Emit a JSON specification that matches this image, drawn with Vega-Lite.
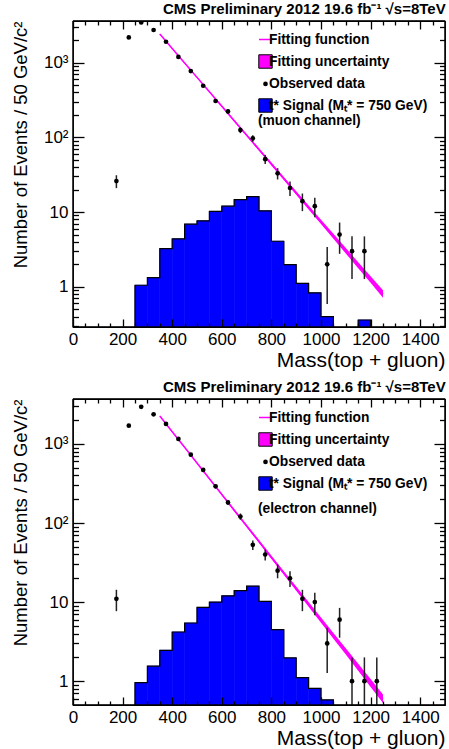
{
  "$schema": "https://vega.github.io/schema/vega-lite/v6.json",
  "background": "white",
  "padding": {"left": 10, "top": 1, "right": 0, "bottom": 0},
  "spacing": 8,
  "datasets": {
    "one": [{}],
    "muHist": [
      {"lo": 200, "hi": 250, "n": 0.01},
      {"lo": 250, "hi": 300, "n": 1.05},
      {"lo": 300, "hi": 350, "n": 1.33},
      {"lo": 350, "hi": 400, "n": 3.24},
      {"lo": 400, "hi": 450, "n": 4.38},
      {"lo": 450, "hi": 500, "n": 6.89},
      {"lo": 500, "hi": 550, "n": 7.64},
      {"lo": 550, "hi": 600, "n": 10.2},
      {"lo": 600, "hi": 650, "n": 12.0},
      {"lo": 650, "hi": 700, "n": 14.7},
      {"lo": 700, "hi": 750, "n": 16.1},
      {"lo": 750, "hi": 800, "n": 10.4},
      {"lo": 800, "hi": 850, "n": 4.07},
      {"lo": 850, "hi": 900, "n": 1.98},
      {"lo": 900, "hi": 950, "n": 1.11},
      {"lo": 950, "hi": 1000, "n": 0.83},
      {"lo": 1000, "hi": 1050, "n": 0.40},
      {"lo": 1050, "hi": 1100, "n": 0.01},
      {"lo": 1100, "hi": 1150, "n": 0.01},
      {"lo": 1150, "hi": 1200, "n": 0.36},
      {"lo": 1200, "hi": 1250, "n": 0.01}
    ],
    "muData": [
      {"m": 175, "n": 26, "lo": 20.9, "hi": 31.1, "series": "Observed data"},
      {"m": 225, "n": 2170, "lo": 2123, "hi": 2217, "series": "Observed data"},
      {"m": 275, "n": 3450, "lo": 3391, "hi": 3509, "series": "Observed data"},
      {"m": 325, "n": 2730, "lo": 2678, "hi": 2782, "series": "Observed data"},
      {"m": 375, "n": 1900, "lo": 1856, "hi": 1944, "series": "Observed data"},
      {"m": 425, "n": 1190, "lo": 1155, "hi": 1225, "series": "Observed data"},
      {"m": 475, "n": 770, "lo": 742, "hi": 798, "series": "Observed data"},
      {"m": 525, "n": 490, "lo": 468, "hi": 512, "series": "Observed data"},
      {"m": 575, "n": 306, "lo": 288.5, "hi": 323.5, "series": "Observed data"},
      {"m": 625, "n": 222, "lo": 207, "hi": 237, "series": "Observed data"},
      {"m": 675, "n": 125, "lo": 113.8, "hi": 136.2, "series": "Observed data"},
      {"m": 725, "n": 97, "lo": 87.2, "hi": 106.9, "series": "Observed data"},
      {"m": 775, "n": 51, "lo": 43.9, "hi": 58.1, "series": "Observed data"},
      {"m": 825, "n": 33, "lo": 27.3, "hi": 38.7, "series": "Observed data"},
      {"m": 875, "n": 21, "lo": 16.4, "hi": 25.6, "series": "Observed data"},
      {"m": 925, "n": 14, "lo": 10.3, "hi": 17.7, "series": "Observed data"},
      {"m": 975, "n": 12, "lo": 8.5, "hi": 15.5, "series": "Observed data"},
      {"m": 1025, "n": 2, "lo": 0.59, "hi": 3.41, "series": "Observed data"},
      {"m": 1075, "n": 5, "lo": 2.76, "hi": 7.24, "series": "Observed data"},
      {"m": 1125, "n": 3, "lo": 1.27, "hi": 4.73, "series": "Observed data"},
      {"m": 1175, "n": 3, "lo": 1.27, "hi": 4.73, "series": "Observed data"}
    ],
    "muFit": [
      {"m": 350, "fit": 2410, "lo": 2382, "hi": 2438},
      {"m": 400, "fit": 1545, "lo": 1524, "hi": 1566},
      {"m": 450, "fit": 990, "lo": 974, "hi": 1006},
      {"m": 500, "fit": 634, "lo": 622, "hi": 646},
      {"m": 550, "fit": 406, "lo": 397, "hi": 415},
      {"m": 600, "fit": 261, "lo": 254, "hi": 268},
      {"m": 650, "fit": 167, "lo": 162, "hi": 172},
      {"m": 700, "fit": 107, "lo": 103.4, "hi": 110.8},
      {"m": 750, "fit": 68.5, "lo": 65.9, "hi": 71.2},
      {"m": 800, "fit": 43.9, "lo": 42.0, "hi": 45.9},
      {"m": 850, "fit": 28.1, "lo": 26.8, "hi": 29.5},
      {"m": 900, "fit": 18.0, "lo": 17.0, "hi": 19.0},
      {"m": 950, "fit": 11.5, "lo": 10.81, "hi": 12.24},
      {"m": 1000, "fit": 7.39, "lo": 6.90, "hi": 7.92},
      {"m": 1050, "fit": 4.74, "lo": 4.39, "hi": 5.11},
      {"m": 1100, "fit": 3.04, "lo": 2.79, "hi": 3.31},
      {"m": 1150, "fit": 1.94, "lo": 1.77, "hi": 2.13},
      {"m": 1200, "fit": 1.25, "lo": 1.13, "hi": 1.39},
      {"m": 1250, "fit": 0.80, "lo": 0.713, "hi": 0.90}
    ],
    "eHist": [
      {"lo": 200, "hi": 250, "n": 0.01},
      {"lo": 250, "hi": 300, "n": 0.96},
      {"lo": 300, "hi": 350, "n": 1.55},
      {"lo": 350, "hi": 400, "n": 2.46},
      {"lo": 400, "hi": 450, "n": 4.19},
      {"lo": 450, "hi": 500, "n": 5.44},
      {"lo": 500, "hi": 550, "n": 8.57},
      {"lo": 550, "hi": 600, "n": 10.0},
      {"lo": 600, "hi": 650, "n": 12.0},
      {"lo": 650, "hi": 700, "n": 14.0},
      {"lo": 700, "hi": 750, "n": 15.9},
      {"lo": 750, "hi": 800, "n": 10.2},
      {"lo": 800, "hi": 850, "n": 4.48},
      {"lo": 850, "hi": 900, "n": 1.97},
      {"lo": 900, "hi": 950, "n": 1.11},
      {"lo": 950, "hi": 1000, "n": 0.81},
      {"lo": 1000, "hi": 1050, "n": 0.58},
      {"lo": 1050, "hi": 1100, "n": 0.01}
    ],
    "eData": [
      {"m": 175, "n": 11, "lo": 7.68, "hi": 14.32, "series": "Observed data"},
      {"m": 225, "n": 1700, "lo": 1659, "hi": 1741, "series": "Observed data"},
      {"m": 275, "n": 2950, "lo": 2896, "hi": 3004, "series": "Observed data"},
      {"m": 325, "n": 2370, "lo": 2321, "hi": 2419, "series": "Observed data"},
      {"m": 375, "n": 1790, "lo": 1748, "hi": 1832, "series": "Observed data"},
      {"m": 425, "n": 1157, "lo": 1123, "hi": 1191, "series": "Observed data"},
      {"m": 475, "n": 732, "lo": 705, "hi": 759, "series": "Observed data"},
      {"m": 525, "n": 469, "lo": 447, "hi": 491, "series": "Observed data"},
      {"m": 575, "n": 291, "lo": 274, "hi": 308, "series": "Observed data"},
      {"m": 625, "n": 182, "lo": 168.5, "hi": 195.5, "series": "Observed data"},
      {"m": 675, "n": 121, "lo": 110, "hi": 132, "series": "Observed data"},
      {"m": 725, "n": 53, "lo": 45.7, "hi": 60.3, "series": "Observed data"},
      {"m": 775, "n": 40, "lo": 33.7, "hi": 46.3, "series": "Observed data"},
      {"m": 825, "n": 25, "lo": 20, "hi": 30, "series": "Observed data"},
      {"m": 875, "n": 20, "lo": 15.5, "hi": 24.5, "series": "Observed data"},
      {"m": 925, "n": 11, "lo": 7.68, "hi": 14.32, "series": "Observed data"},
      {"m": 975, "n": 10, "lo": 6.84, "hi": 13.16, "series": "Observed data"},
      {"m": 1025, "n": 3, "lo": 1.27, "hi": 4.73, "series": "Observed data"},
      {"m": 1075, "n": 6, "lo": 3.55, "hi": 8.45, "series": "Observed data"},
      {"m": 1125, "n": 1, "lo": 0.01, "hi": 2, "series": "Observed data"},
      {"m": 1175, "n": 1, "lo": 0.01, "hi": 2, "series": "Observed data"},
      {"m": 1225, "n": 1, "lo": 0.01, "hi": 2, "series": "Observed data"}
    ],
    "eFit": [
      {"m": 350, "fit": 2259, "lo": 2233, "hi": 2285},
      {"m": 400, "fit": 1429, "lo": 1409, "hi": 1449},
      {"m": 450, "fit": 906, "lo": 891, "hi": 921},
      {"m": 500, "fit": 573, "lo": 563, "hi": 584},
      {"m": 550, "fit": 363, "lo": 355, "hi": 371},
      {"m": 600, "fit": 230, "lo": 224, "hi": 236},
      {"m": 650, "fit": 145, "lo": 140, "hi": 150},
      {"m": 700, "fit": 92.1, "lo": 88.7, "hi": 95.6},
      {"m": 750, "fit": 58.3, "lo": 55.9, "hi": 60.8},
      {"m": 800, "fit": 36.9, "lo": 35.2, "hi": 38.6},
      {"m": 850, "fit": 23.3, "lo": 22.1, "hi": 24.6},
      {"m": 900, "fit": 14.8, "lo": 13.95, "hi": 15.7},
      {"m": 950, "fit": 9.36, "lo": 8.75, "hi": 10.0},
      {"m": 1000, "fit": 5.93, "lo": 5.50, "hi": 6.39},
      {"m": 1050, "fit": 3.75, "lo": 3.45, "hi": 4.07},
      {"m": 1100, "fit": 2.38, "lo": 2.17, "hi": 2.61},
      {"m": 1150, "fit": 1.50, "lo": 1.36, "hi": 1.66},
      {"m": 1200, "fit": 0.95, "lo": 0.847, "hi": 1.065},
      {"m": 1250, "fit": 0.60, "lo": 0.529, "hi": 0.681}
    ]
  },
  "resolve": {"scale": {"fill": "independent", "stroke": "independent", "shape": "independent", "size": "independent", "strokeWidth": "independent"}},
  "vconcat": [
    {
      "width": 372, "height": 306,
      "title": {"text": "CMS Preliminary 2012 19.6 fb⁻¹ √s=8TeV", "anchor": "end", "fontSize": 15, "font": "Liberation Sans", "fontWeight": "bold", "color": "black", "offset": 3},
      "resolve": {"axis": {"x": "independent", "y": "independent"}},
      "layer": [
        {"data": {"name": "muHist"}, "mark": {"type": "rect", "color": "#0000ff", "stroke": "#0000ff", "strokeWidth": 0.6, "clip": true},
         "encoding": {
           "x": {"field": "lo", "type": "quantitative", "scale": {"domain": [0, 1500], "nice": false, "zero": false},
                 "axis": {"orient": "bottom", "values": [0, 200, 400, 600, 800, 1000, 1200, 1400], "format": "d", "ticks": false, "labelFontSize": 17, "labelPadding": 4, "labelFlush": false, "labelOverlap": false, "title": "Mass(top + gluon)", "titleAnchor": "end", "titleFontSize": 21, "titleFontWeight": "normal", "titlePadding": 2}},
           "x2": {"field": "hi"},
           "y": {"field": "n", "type": "quantitative", "scale": {"type": "log", "domain": [0.29, 3600], "nice": false},
                 "axis": {"orient": "left", "values": [1, 10, 100, 1000], "ticks": false, "labelFontSize": 17, "labelPadding": 5, "labelExpr": "datum.value == 1 ? '1' : datum.value == 10 ? '10' : datum.value == 100 ? '10²' : '10³'", "title": "Number of Events / 50 GeV/c²", "titleAnchor": "end", "titleFontSize": 18.5, "titleFontWeight": "normal", "titlePadding": 13}},
           "y2": {"datum": 0.01}
         }},
        {"data": {"name": "muHist"}, "mark": {"type": "line", "interpolate": "step-after", "color": "black", "strokeWidth": 1.2, "clip": true},
         "encoding": {
           "x": {"field": "lo", "type": "quantitative", "scale": {"domain": [0, 1500], "nice": false, "zero": false},
                 "axis": {"orient": "bottom", "values": [0, 200, 400, 600, 800, 1000, 1200, 1400], "labels": false, "ticks": true, "tickSize": 8, "offset": -8, "zindex": 1, "title": null}},
           "y": {"field": "n", "type": "quantitative", "scale": {"type": "log", "domain": [0.29, 3600], "nice": false},
                 "axis": {"orient": "left", "values": [1, 10, 100, 1000], "labels": false, "ticks": true, "tickSize": 11, "offset": -11, "zindex": 1, "title": null}}
         }},
        {"data": {"name": "muFit"}, "mark": {"type": "area", "color": "#ff00ff", "opacity": 1, "clip": true},
         "encoding": {
           "x": {"field": "m", "type": "quantitative", "scale": {"domain": [0, 1500], "nice": false, "zero": false},
                 "axis": {"orient": "bottom", "values": [50, 100, 150, 250, 300, 350, 450, 500, 550, 650, 700, 750, 850, 900, 950, 1050, 1100, 1150, 1250, 1300, 1350, 1450], "labels": false, "ticks": true, "tickSize": 4, "offset": -4, "zindex": 1, "title": null}},
           "y": {"field": "lo", "type": "quantitative", "scale": {"type": "log", "domain": [0.29, 3600], "nice": false},
                 "axis": {"orient": "left", "values": [0.3, 0.4, 0.5, 0.6, 0.7, 0.8, 0.9, 2, 3, 4, 5, 6, 7, 8, 9, 20, 30, 40, 50, 60, 70, 80, 90, 200, 300, 400, 500, 600, 700, 800, 900, 2000, 3000], "labels": false, "ticks": true, "tickSize": 5.5, "offset": -5.5, "zindex": 1, "title": null}},
           "y2": {"field": "hi"}
         }},
        {"data": {"name": "muFit"}, "mark": {"type": "line", "color": "#ff00ff", "strokeWidth": 1.5, "clip": true},
         "encoding": {
           "x": {"field": "m", "type": "quantitative", "scale": {"domain": [0, 1500], "nice": false, "zero": false},
                 "axis": {"orient": "top", "values": [0, 200, 400, 600, 800, 1000, 1200, 1400], "labels": false, "ticks": true, "tickSize": -8, "zindex": 1, "title": null}},
           "y": {"field": "fit", "type": "quantitative", "scale": {"type": "log", "domain": [0.29, 3600], "nice": false},
                 "axis": {"orient": "right", "values": [1, 10, 100, 1000], "labels": false, "ticks": true, "tickSize": -11, "zindex": 1, "title": null}}
         }},
        {"data": {"name": "muData"}, "mark": {"type": "rule", "color": "#222222", "strokeWidth": 1.5, "clip": true},
         "encoding": {
           "x": {"field": "m", "type": "quantitative", "scale": {"domain": [0, 1500], "nice": false, "zero": false},
                 "axis": {"orient": "top", "values": [50, 100, 150, 250, 300, 350, 450, 500, 550, 650, 700, 750, 850, 900, 950, 1050, 1100, 1150, 1250, 1300, 1350, 1450], "labels": false, "ticks": true, "tickSize": -4, "zindex": 1, "title": null}},
           "y": {"field": "lo", "type": "quantitative", "scale": {"type": "log", "domain": [0.29, 3600], "nice": false},
                 "axis": {"orient": "right", "values": [0.3, 0.4, 0.5, 0.6, 0.7, 0.8, 0.9, 2, 3, 4, 5, 6, 7, 8, 9, 20, 30, 40, 50, 60, 70, 80, 90, 200, 300, 400, 500, 600, 700, 800, 900, 2000, 3000], "labels": false, "ticks": true, "tickSize": -5.5, "zindex": 1, "title": null}},
           "y2": {"field": "hi"}
         }},
        {"data": {"name": "one"}, "mark": {"type": "rule", "color": "black", "strokeWidth": 1.3},
         "encoding": {"x": {"datum": 0, "type": "quantitative", "axis": null}, "y": {"datum": 0.29, "type": "quantitative", "axis": null}, "y2": {"datum": 3600}}},
        {"data": {"name": "one"}, "mark": {"type": "rule", "color": "black", "strokeWidth": 1.3},
         "encoding": {"x": {"datum": 1500, "type": "quantitative", "axis": null}, "y": {"datum": 0.29, "type": "quantitative", "axis": null}, "y2": {"datum": 3600}}},
        {"data": {"name": "one"}, "mark": {"type": "rule", "color": "black", "strokeWidth": 1.3},
         "encoding": {"y": {"datum": 0.29, "type": "quantitative", "axis": null}, "x": {"datum": 0, "type": "quantitative", "axis": null}, "x2": {"datum": 1500}}},
        {"data": {"name": "one"}, "mark": {"type": "rule", "color": "black", "strokeWidth": 1.3},
         "encoding": {"y": {"datum": 3600, "type": "quantitative", "axis": null}, "x": {"datum": 0, "type": "quantitative", "axis": null}, "x2": {"datum": 1500}}},
        {"data": {"name": "muData"}, "mark": {"type": "point", "filled": true, "opacity": 1, "clip": true},
         "encoding": {
           "x": {"field": "m", "type": "quantitative", "scale": {"domain": [0, 1500], "nice": false, "zero": false}, "axis": null},
           "y": {"field": "n", "type": "quantitative", "scale": {"type": "log", "domain": [0.29, 3600], "nice": false}, "axis": null},
           "fill": {"field": "series", "type": "nominal",
             "scale": {"domain": ["Fitting function", "Fitting uncertainty", "Observed data", "t* Signal (Mₜ* = 750 GeV)"], "range": ["#ff00ff", "#ff00ff", "black", "#0000ff"]},
             "legend": {"orient": "none", "legendX": 185, "legendY": 11, "title": "(muon channel)", "titleOrient": "bottom", "titleAnchor": "start", "titlePadding": 0, "titleFont": "Liberation Sans", "titleFontWeight": "bold", "titleFontSize": 13.8, "titleColor": "black", "titleLimit": 0, "labelFont": "Liberation Sans", "labelFontWeight": "bold", "labelFontSize": 13.8, "labelColor": "black", "labelLimit": 0, "symbolSize": 180, "rowPadding": 5, "labelOffset": -4, "padding": 0}},
           "stroke": {"field": "series", "type": "nominal",
             "scale": {"domain": ["Fitting function", "Fitting uncertainty", "Observed data", "t* Signal (Mₜ* = 750 GeV)"], "range": ["#ff00ff", "black", "transparent", "black"]},
             "legend": {"orient": "none", "legendX": 185, "legendY": 11, "title": "(muon channel)", "titleOrient": "bottom", "titleAnchor": "start", "titlePadding": 0, "titleFont": "Liberation Sans", "titleFontWeight": "bold", "titleFontSize": 13.8, "titleColor": "black", "titleLimit": 0, "labelFont": "Liberation Sans", "labelFontWeight": "bold", "labelFontSize": 13.8, "labelColor": "black", "labelLimit": 0, "symbolSize": 180, "rowPadding": 5, "labelOffset": -4, "padding": 0}},
           "shape": {"field": "series", "type": "nominal",
             "scale": {"domain": ["Fitting function", "Fitting uncertainty", "Observed data", "t* Signal (Mₜ* = 750 GeV)"], "range": ["stroke", "square", "circle", "square"]},
             "legend": {"orient": "none", "legendX": 185, "legendY": 11, "title": "(muon channel)", "titleOrient": "bottom", "titleAnchor": "start", "titlePadding": 0, "titleFont": "Liberation Sans", "titleFontWeight": "bold", "titleFontSize": 13.8, "titleColor": "black", "titleLimit": 0, "labelFont": "Liberation Sans", "labelFontWeight": "bold", "labelFontSize": 13.8, "labelColor": "black", "labelLimit": 0, "symbolSize": 180, "rowPadding": 5, "labelOffset": -4, "padding": 0}},
           "size": {"field": "series", "type": "nominal",
             "scale": {"type": "ordinal", "domain": ["Fitting function", "Fitting uncertainty", "Observed data", "t* Signal (Mₜ* = 750 GeV)"], "range": [170, 180, 22, 180]},
             "legend": {"orient": "none", "legendX": 185, "legendY": 11, "title": "(muon channel)", "titleOrient": "bottom", "titleAnchor": "start", "titlePadding": 0, "titleFont": "Liberation Sans", "titleFontWeight": "bold", "titleFontSize": 13.8, "titleColor": "black", "titleLimit": 0, "labelFont": "Liberation Sans", "labelFontWeight": "bold", "labelFontSize": 13.8, "labelColor": "black", "labelLimit": 0, "symbolSize": 180, "rowPadding": 5, "labelOffset": -4, "padding": 0}},
           "strokeWidth": {"field": "series", "type": "nominal",
             "scale": {"type": "ordinal", "domain": ["Fitting function", "Fitting uncertainty", "Observed data", "t* Signal (Mₜ* = 750 GeV)"], "range": [1.5, 1, 0, 1]},
             "legend": {"orient": "none", "legendX": 185, "legendY": 11, "title": "(muon channel)", "titleOrient": "bottom", "titleAnchor": "start", "titlePadding": 0, "titleFont": "Liberation Sans", "titleFontWeight": "bold", "titleFontSize": 13.8, "titleColor": "black", "titleLimit": 0, "labelFont": "Liberation Sans", "labelFontWeight": "bold", "labelFontSize": 13.8, "labelColor": "black", "labelLimit": 0, "symbolSize": 180, "rowPadding": 5, "labelOffset": -4, "padding": 0}}
         }}
      ]
    },
    {
      "width": 372, "height": 306,
      "title": {"text": "CMS Preliminary 2012 19.6 fb⁻¹ √s=8TeV", "anchor": "end", "fontSize": 15, "font": "Liberation Sans", "fontWeight": "bold", "color": "black", "offset": 3},
      "resolve": {"axis": {"x": "independent", "y": "independent"}},
      "layer": [
        {"data": {"name": "eHist"}, "mark": {"type": "rect", "color": "#0000ff", "stroke": "#0000ff", "strokeWidth": 0.6, "clip": true},
         "encoding": {
           "x": {"field": "lo", "type": "quantitative", "scale": {"domain": [0, 1500], "nice": false, "zero": false},
                 "axis": {"orient": "bottom", "values": [0, 200, 400, 600, 800, 1000, 1200, 1400], "format": "d", "ticks": false, "labelFontSize": 17, "labelPadding": 4, "labelFlush": false, "labelOverlap": false, "title": "Mass(top + gluon)", "titleAnchor": "end", "titleFontSize": 21, "titleFontWeight": "normal", "titlePadding": 2}},
           "x2": {"field": "hi"},
           "y": {"field": "n", "type": "quantitative", "scale": {"type": "log", "domain": [0.5, 3700], "nice": false},
                 "axis": {"orient": "left", "values": [1, 10, 100, 1000], "ticks": false, "labelFontSize": 17, "labelPadding": 5, "labelExpr": "datum.value == 1 ? '1' : datum.value == 10 ? '10' : datum.value == 100 ? '10²' : '10³'", "title": "Number of Events / 50 GeV/c²", "titleAnchor": "end", "titleFontSize": 18.5, "titleFontWeight": "normal", "titlePadding": 13}},
           "y2": {"datum": 0.01}
         }},
        {"data": {"name": "eHist"}, "mark": {"type": "line", "interpolate": "step-after", "color": "black", "strokeWidth": 1.2, "clip": true},
         "encoding": {
           "x": {"field": "lo", "type": "quantitative", "scale": {"domain": [0, 1500], "nice": false, "zero": false},
                 "axis": {"orient": "bottom", "values": [0, 200, 400, 600, 800, 1000, 1200, 1400], "labels": false, "ticks": true, "tickSize": 8, "offset": -8, "zindex": 1, "title": null}},
           "y": {"field": "n", "type": "quantitative", "scale": {"type": "log", "domain": [0.5, 3700], "nice": false},
                 "axis": {"orient": "left", "values": [1, 10, 100, 1000], "labels": false, "ticks": true, "tickSize": 11, "offset": -11, "zindex": 1, "title": null}}
         }},
        {"data": {"name": "eFit"}, "mark": {"type": "area", "color": "#ff00ff", "opacity": 1, "clip": true},
         "encoding": {
           "x": {"field": "m", "type": "quantitative", "scale": {"domain": [0, 1500], "nice": false, "zero": false},
                 "axis": {"orient": "bottom", "values": [50, 100, 150, 250, 300, 350, 450, 500, 550, 650, 700, 750, 850, 900, 950, 1050, 1100, 1150, 1250, 1300, 1350, 1450], "labels": false, "ticks": true, "tickSize": 4, "offset": -4, "zindex": 1, "title": null}},
           "y": {"field": "lo", "type": "quantitative", "scale": {"type": "log", "domain": [0.5, 3700], "nice": false},
                 "axis": {"orient": "left", "values": [0.6, 0.7, 0.8, 0.9, 2, 3, 4, 5, 6, 7, 8, 9, 20, 30, 40, 50, 60, 70, 80, 90, 200, 300, 400, 500, 600, 700, 800, 900, 2000, 3000], "labels": false, "ticks": true, "tickSize": 5.5, "offset": -5.5, "zindex": 1, "title": null}},
           "y2": {"field": "hi"}
         }},
        {"data": {"name": "eFit"}, "mark": {"type": "line", "color": "#ff00ff", "strokeWidth": 1.5, "clip": true},
         "encoding": {
           "x": {"field": "m", "type": "quantitative", "scale": {"domain": [0, 1500], "nice": false, "zero": false},
                 "axis": {"orient": "top", "values": [0, 200, 400, 600, 800, 1000, 1200, 1400], "labels": false, "ticks": true, "tickSize": -8, "zindex": 1, "title": null}},
           "y": {"field": "fit", "type": "quantitative", "scale": {"type": "log", "domain": [0.5, 3700], "nice": false},
                 "axis": {"orient": "right", "values": [1, 10, 100, 1000], "labels": false, "ticks": true, "tickSize": -11, "zindex": 1, "title": null}}
         }},
        {"data": {"name": "eData"}, "mark": {"type": "rule", "color": "#222222", "strokeWidth": 1.5, "clip": true},
         "encoding": {
           "x": {"field": "m", "type": "quantitative", "scale": {"domain": [0, 1500], "nice": false, "zero": false},
                 "axis": {"orient": "top", "values": [50, 100, 150, 250, 300, 350, 450, 500, 550, 650, 700, 750, 850, 900, 950, 1050, 1100, 1150, 1250, 1300, 1350, 1450], "labels": false, "ticks": true, "tickSize": -4, "zindex": 1, "title": null}},
           "y": {"field": "lo", "type": "quantitative", "scale": {"type": "log", "domain": [0.5, 3700], "nice": false},
                 "axis": {"orient": "right", "values": [0.6, 0.7, 0.8, 0.9, 2, 3, 4, 5, 6, 7, 8, 9, 20, 30, 40, 50, 60, 70, 80, 90, 200, 300, 400, 500, 600, 700, 800, 900, 2000, 3000], "labels": false, "ticks": true, "tickSize": -5.5, "zindex": 1, "title": null}},
           "y2": {"field": "hi"}
         }},
        {"data": {"name": "one"}, "mark": {"type": "rule", "color": "black", "strokeWidth": 1.3},
         "encoding": {"x": {"datum": 0, "type": "quantitative", "axis": null}, "y": {"datum": 0.5, "type": "quantitative", "axis": null}, "y2": {"datum": 3700}}},
        {"data": {"name": "one"}, "mark": {"type": "rule", "color": "black", "strokeWidth": 1.3},
         "encoding": {"x": {"datum": 1500, "type": "quantitative", "axis": null}, "y": {"datum": 0.5, "type": "quantitative", "axis": null}, "y2": {"datum": 3700}}},
        {"data": {"name": "one"}, "mark": {"type": "rule", "color": "black", "strokeWidth": 1.3},
         "encoding": {"y": {"datum": 0.5, "type": "quantitative", "axis": null}, "x": {"datum": 0, "type": "quantitative", "axis": null}, "x2": {"datum": 1500}}},
        {"data": {"name": "one"}, "mark": {"type": "rule", "color": "black", "strokeWidth": 1.3},
         "encoding": {"y": {"datum": 3700, "type": "quantitative", "axis": null}, "x": {"datum": 0, "type": "quantitative", "axis": null}, "x2": {"datum": 1500}}},
        {"data": {"name": "eData"}, "mark": {"type": "point", "filled": true, "opacity": 1, "clip": true},
         "encoding": {
           "x": {"field": "m", "type": "quantitative", "scale": {"domain": [0, 1500], "nice": false, "zero": false}, "axis": null},
           "y": {"field": "n", "type": "quantitative", "scale": {"type": "log", "domain": [0.5, 3700], "nice": false}, "axis": null},
           "fill": {"field": "series", "type": "nominal",
             "scale": {"domain": ["Fitting function", "Fitting uncertainty", "Observed data", "t* Signal (Mₜ* = 750 GeV)"], "range": ["#ff00ff", "#ff00ff", "black", "#0000ff"]},
             "legend": {"orient": "none", "legendX": 185, "legendY": 11, "title": "(electron channel)", "titleOrient": "bottom", "titleAnchor": "start", "titlePadding": 10, "titleFont": "Liberation Sans", "titleFontWeight": "bold", "titleFontSize": 13.8, "titleColor": "black", "titleLimit": 0, "labelFont": "Liberation Sans", "labelFontWeight": "bold", "labelFontSize": 13.8, "labelColor": "black", "labelLimit": 0, "symbolSize": 180, "rowPadding": 5, "labelOffset": -4, "padding": 0}},
           "stroke": {"field": "series", "type": "nominal",
             "scale": {"domain": ["Fitting function", "Fitting uncertainty", "Observed data", "t* Signal (Mₜ* = 750 GeV)"], "range": ["#ff00ff", "black", "transparent", "black"]},
             "legend": {"orient": "none", "legendX": 185, "legendY": 11, "title": "(electron channel)", "titleOrient": "bottom", "titleAnchor": "start", "titlePadding": 10, "titleFont": "Liberation Sans", "titleFontWeight": "bold", "titleFontSize": 13.8, "titleColor": "black", "titleLimit": 0, "labelFont": "Liberation Sans", "labelFontWeight": "bold", "labelFontSize": 13.8, "labelColor": "black", "labelLimit": 0, "symbolSize": 180, "rowPadding": 5, "labelOffset": -4, "padding": 0}},
           "shape": {"field": "series", "type": "nominal",
             "scale": {"domain": ["Fitting function", "Fitting uncertainty", "Observed data", "t* Signal (Mₜ* = 750 GeV)"], "range": ["stroke", "square", "circle", "square"]},
             "legend": {"orient": "none", "legendX": 185, "legendY": 11, "title": "(electron channel)", "titleOrient": "bottom", "titleAnchor": "start", "titlePadding": 10, "titleFont": "Liberation Sans", "titleFontWeight": "bold", "titleFontSize": 13.8, "titleColor": "black", "titleLimit": 0, "labelFont": "Liberation Sans", "labelFontWeight": "bold", "labelFontSize": 13.8, "labelColor": "black", "labelLimit": 0, "symbolSize": 180, "rowPadding": 5, "labelOffset": -4, "padding": 0}},
           "size": {"field": "series", "type": "nominal",
             "scale": {"type": "ordinal", "domain": ["Fitting function", "Fitting uncertainty", "Observed data", "t* Signal (Mₜ* = 750 GeV)"], "range": [170, 180, 22, 180]},
             "legend": {"orient": "none", "legendX": 185, "legendY": 11, "title": "(electron channel)", "titleOrient": "bottom", "titleAnchor": "start", "titlePadding": 10, "titleFont": "Liberation Sans", "titleFontWeight": "bold", "titleFontSize": 13.8, "titleColor": "black", "titleLimit": 0, "labelFont": "Liberation Sans", "labelFontWeight": "bold", "labelFontSize": 13.8, "labelColor": "black", "labelLimit": 0, "symbolSize": 180, "rowPadding": 5, "labelOffset": -4, "padding": 0}},
           "strokeWidth": {"field": "series", "type": "nominal",
             "scale": {"type": "ordinal", "domain": ["Fitting function", "Fitting uncertainty", "Observed data", "t* Signal (Mₜ* = 750 GeV)"], "range": [1.5, 1, 0, 1]},
             "legend": {"orient": "none", "legendX": 185, "legendY": 11, "title": "(electron channel)", "titleOrient": "bottom", "titleAnchor": "start", "titlePadding": 10, "titleFont": "Liberation Sans", "titleFontWeight": "bold", "titleFontSize": 13.8, "titleColor": "black", "titleLimit": 0, "labelFont": "Liberation Sans", "labelFontWeight": "bold", "labelFontSize": 13.8, "labelColor": "black", "labelLimit": 0, "symbolSize": 180, "rowPadding": 5, "labelOffset": -4, "padding": 0}}
         }}
      ]
    }
  ],
  "config": {
    "view": {"stroke": "black", "strokeWidth": 1.2},
    "axis": {"grid": false, "domain": false, "labelFont": "Liberation Sans", "titleFont": "Liberation Sans", "labelColor": "black", "titleColor": "black", "tickColor": "black", "tickWidth": 1.3},
    "legend": {"labelFont": "Liberation Sans"},
    "title": {"font": "Liberation Sans"}
  }
}
